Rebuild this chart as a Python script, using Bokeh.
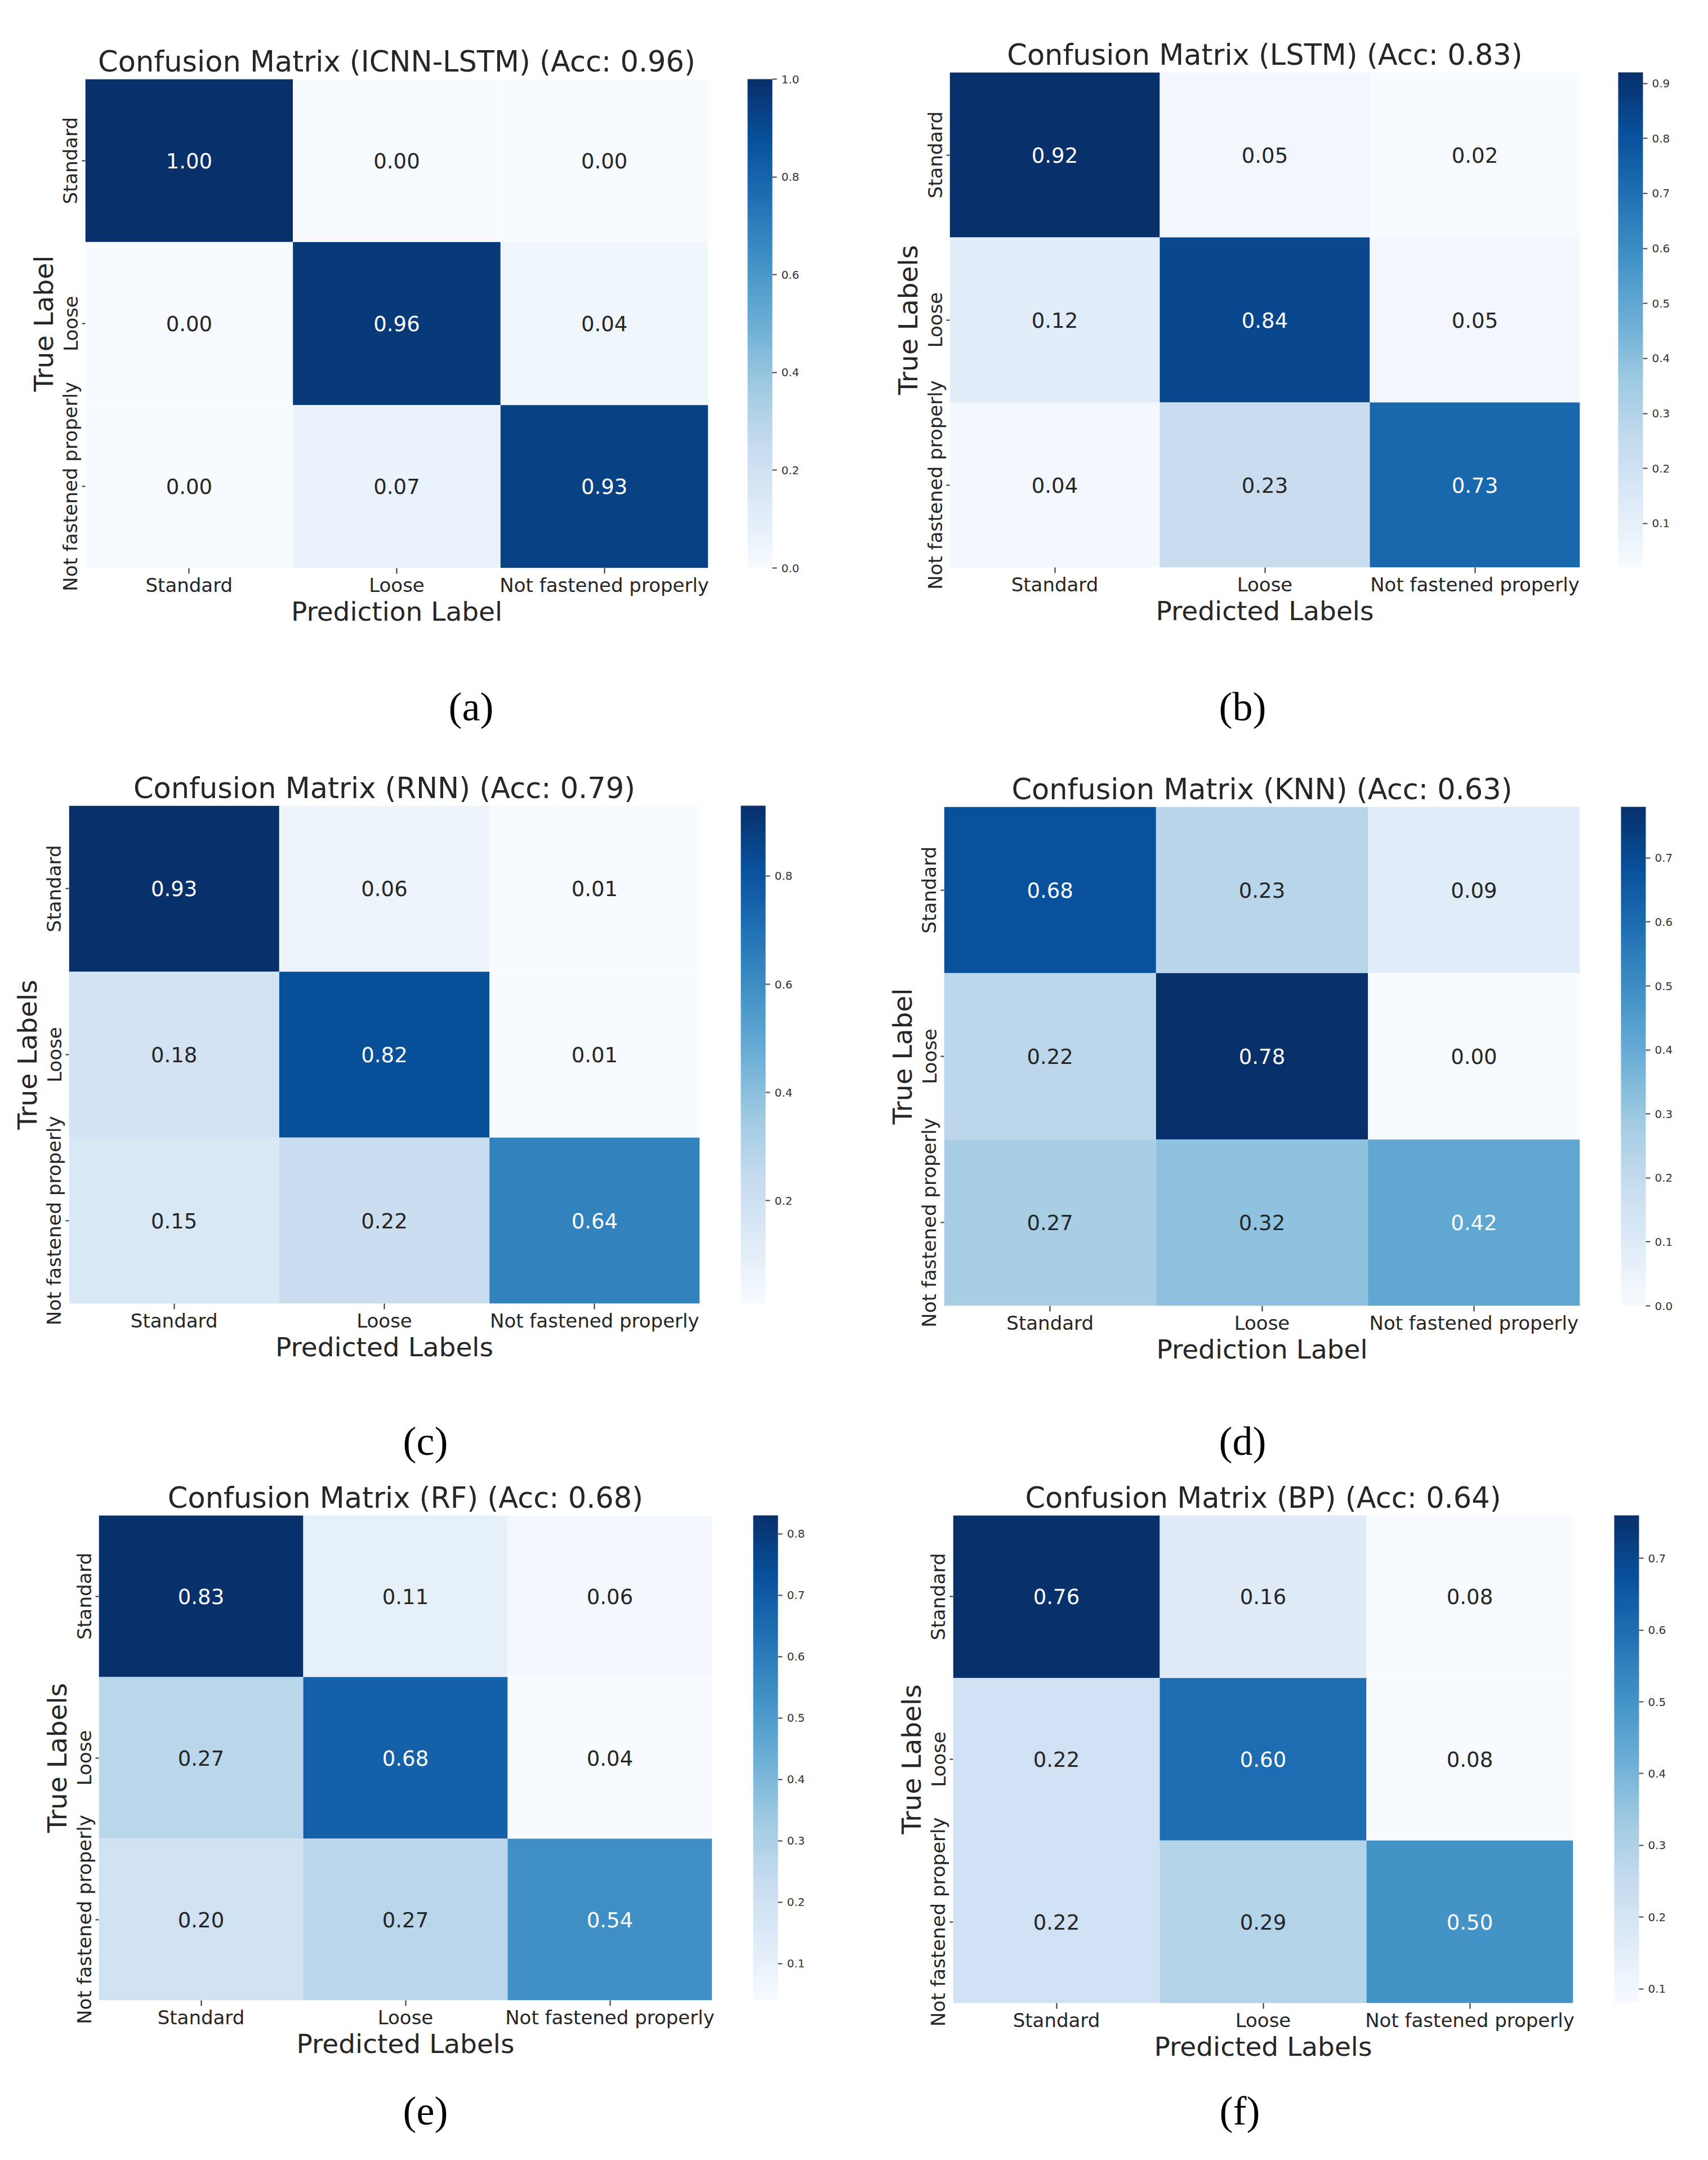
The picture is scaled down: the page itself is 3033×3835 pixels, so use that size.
import math
from bokeh.plotting import figure
from bokeh.models import (FactorRange, Range1d, ColumnDataSource, LinearColorMapper, ColorBar,
                          FixedTicker, PrintfTickFormatter)
from bokeh.layouts import row, column
from bokeh.palettes import Blues256
from bokeh.embed import file_html
from bokeh.resources import INLINE
from bokeh.core.properties import value

# ---------------- data ----------------
classes = ["Standard", "Loose", "Not fastened properly"]

cm_icnn_lstm = [[1.00, 0.00, 0.00], [0.00, 0.96, 0.04], [0.00, 0.07, 0.93]]
cm_lstm      = [[0.92, 0.05, 0.02], [0.12, 0.84, 0.05], [0.04, 0.23, 0.73]]
cm_rnn       = [[0.93, 0.06, 0.01], [0.18, 0.82, 0.01], [0.15, 0.22, 0.64]]
cm_knn       = [[0.68, 0.23, 0.09], [0.22, 0.78, 0.00], [0.27, 0.32, 0.42]]
cm_rf        = [[0.83, 0.11, 0.06], [0.27, 0.68, 0.04], [0.20, 0.27, 0.54]]
cm_bp        = [[0.76, 0.16, 0.08], [0.22, 0.60, 0.08], [0.22, 0.29, 0.50]]

titles = ["Confusion Matrix (ICNN-LSTM) (Acc: 0.96)",
          "Confusion Matrix (LSTM) (Acc: 0.83)",
          "Confusion Matrix (RNN) (Acc: 0.79)",
          "Confusion Matrix (KNN) (Acc: 0.63)",
          "Confusion Matrix (RF) (Acc: 0.68)",
          "Confusion Matrix (BP) (Acc: 0.64)"]
x_labels = ["Prediction Label", "Predicted Labels", "Predicted Labels",
            "Prediction Label", "Predicted Labels", "Predicted Labels"]
y_labels = ["True Label", "True Labels", "True Labels",
            "True Label", "True Labels", "True Labels"]
captions = ["(a)", "(b)", "(c)", "(d)", "(e)", "(f)"]
cbar_ticks = [[0.0, 0.2, 0.4, 0.6, 0.8, 1.0],
              [0.1, 0.2, 0.3, 0.4, 0.5, 0.6, 0.7, 0.8, 0.9],
              [0.2, 0.4, 0.6, 0.8],
              [0.0, 0.1, 0.2, 0.3, 0.4, 0.5, 0.6, 0.7],
              [0.1, 0.2, 0.3, 0.4, 0.5, 0.6, 0.7, 0.8],
              [0.1, 0.2, 0.3, 0.4, 0.5, 0.6, 0.7]]
matrices = [cm_icnn_lstm, cm_lstm, cm_rnn, cm_knn, cm_rf, cm_bp]

# ---------------- layout (page pixels) ----------------
# panel: origin x, origin y, width, height, frame x0, x1, y0, y1, colorbar gap
geom = [
    (8,    8,    1508, 1142, 159,  1265, 148,  1016, 70),
    (1516, 8,    1509, 1142, 1694, 2813, 136,  1015, 68),
    (8,    1340, 1508, 1110, 130,  1250, 1438, 2322, 73),
    (1516, 1340, 1509, 1110, 1684, 2813, 1440, 2326, 73),
    (8,    2630, 1508, 1060, 183,  1272, 2698, 3559, 73),
    (1516, 2630, 1509, 1060, 1700, 2801, 2698, 3564, 73),
]
# caption strips: top y, height ; caption centre x, centre y
cap_rows = [(1150, 190), (2450, 180), (3690, 137)]
cap_pos = [(844, 1262), (2214, 1262), (763, 2566), (2214, 2566), (763, 3755), (2209, 3755)]

pal = list(Blues256)
def _sum_hex(h):
    return int(h[1:3], 16) + int(h[3:5], 16) + int(h[5:7], 16)
if _sum_hex(pal[0]) < _sum_hex(pal[-1]):
    pal = pal[::-1]          # light -> dark


def rel_lum(h):
    out = []
    for i in (1, 3, 5):
        c = int(h[i:i + 2], 16) / 255.0
        c = c / 12.92 if c <= 0.03928 else ((c + 0.055) / 1.055) ** 2.4
        out.append(c)
    return 0.2126 * out[0] + 0.7152 * out[1] + 0.0722 * out[2]


FONT = "DejaVu Sans"
TXT = "#262626"


def make_panel(k):
    cm = matrices[k]
    ox, oy, W, H, fx0, fx1, fy0, fy1, gap = geom[k]
    flat = [v for r in cm for v in r]
    lo, hi = min(flat), max(flat)

    xs, ys, vals, labels, tcol = [], [], [], [], []
    for i, r in enumerate(cm):
        for j, v in enumerate(r):
            xs.append(classes[j])
            ys.append(classes[i])
            vals.append(v)
            labels.append("%.2f" % v)
            idx = int((v - lo) / (hi - lo) * len(pal)) if hi > lo else 0
            idx = max(0, min(len(pal) - 1, idx))
            tcol.append(TXT if rel_lum(pal[idx]) > 0.408 else "#ffffff")
    src = ColumnDataSource(dict(x=xs, y=ys, v=vals, t=labels, tc=tcol))

    fh = fy1 - fy0
    p = figure(x_range=FactorRange(factors=classes),
               y_range=FactorRange(factors=classes[::-1]),
               width=W, height=H,
               min_border_left=fx0 - ox, min_border_right=W - (fx1 - ox),
               min_border_top=fy0 - oy, min_border_bottom=H - (fy1 - oy),
               output_backend="svg", toolbar_location=None, tools="")
    p.outline_line_color = None
    p.grid.visible = False
    p.background_fill_color = "white"

    mapper = LinearColorMapper(palette=pal, low=lo, high=hi)
    p.rect(x="x", y="y", width=1, height=1, source=src,
           fill_color={"field": "v", "transform": mapper}, line_color=None)
    p.text(x="x", y="y", text="t", source=src, text_color="tc",
           text_align="center", text_baseline="middle",
           text_font=value(FONT), text_font_size="37px")

    p.title.text = titles[k]
    p.title.align = "center"
    p.title.text_font = FONT
    p.title.text_font_size = "51px"
    p.title.text_font_style = "normal"
    p.title.text_color = TXT
    p.title.standoff = 4

    for ax in (p.xaxis[0], p.yaxis[0]):
        ax.axis_line_color = None
        ax.major_tick_line_color = "#333333"
        ax.major_tick_line_width = 2
        ax.major_tick_in = 0
        ax.minor_tick_line_color = None
        ax.major_label_text_font = FONT
        ax.major_label_text_font_size = "34px"
        ax.major_label_text_color = TXT
        ax.axis_label_text_font = FONT
        ax.axis_label_text_font_size = "47px"
        ax.axis_label_text_font_style = "normal"
        ax.axis_label_text_color = TXT
    p.xaxis.axis_label = x_labels[k]
    p.yaxis.axis_label = y_labels[k]
    p.xaxis.major_tick_out = 10
    p.xaxis.major_label_standoff = 0
    p.xaxis.axis_label_standoff = -4
    p.yaxis.major_tick_out = 6
    p.yaxis.major_label_standoff = 0
    p.yaxis.axis_label_standoff = -2
    p.yaxis.major_label_orientation = "vertical"

    cb = ColorBar(color_mapper=mapper, width=44, height=fh, padding=0, margin=0,
                  location=(gap, 0),
                  ticker=FixedTicker(ticks=cbar_ticks[k]),
                  formatter=PrintfTickFormatter(format="%.1f"),
                  major_label_text_font=FONT, major_label_text_font_size="20px",
                  major_label_text_color="#333333",
                  major_tick_out=8, major_tick_in=0, major_tick_line_color="#444444",
                  major_tick_line_width=2,
                  label_standoff=8, bar_line_color=None, border_line_color=None,
                  background_fill_alpha=0)
    p.add_layout(cb, "right")
    return p


def make_caption_strip(r):
    top, h = cap_rows[r]
    ox = 8
    W = 3017
    p = figure(x_range=Range1d(ox, ox + W), y_range=Range1d(top + h, top),
               width=W, height=h, min_border=0,
               output_backend="svg", toolbar_location=None, tools="")
    p.axis.visible = False
    p.grid.visible = False
    p.outline_line_color = None
    ks = [2 * r, 2 * r + 1]
    src = ColumnDataSource(dict(x=[cap_pos[k][0] for k in ks],
                                y=[cap_pos[k][1] for k in ks],
                                t=[captions[k] for k in ks]))
    p.text(x="x", y="y", text="t", source=src, text_align="center",
           text_baseline="middle", text_font=value("Liberation Serif"),
           text_font_size="72px", text_color="black")
    return p


panels = [make_panel(k) for k in range(6)]
strips = [make_caption_strip(r) for r in range(3)]
# each panel wrapped in its own column so the two frames of a row are not aligned
layout = column(row(column(panels[0]), column(panels[1]), spacing=0), strips[0],
                row(column(panels[2]), column(panels[3]), spacing=0), strips[1],
                row(column(panels[4]), column(panels[5]), spacing=0), strips[2], spacing=0)

open("out.html", "w").write(file_html(layout, INLINE))
